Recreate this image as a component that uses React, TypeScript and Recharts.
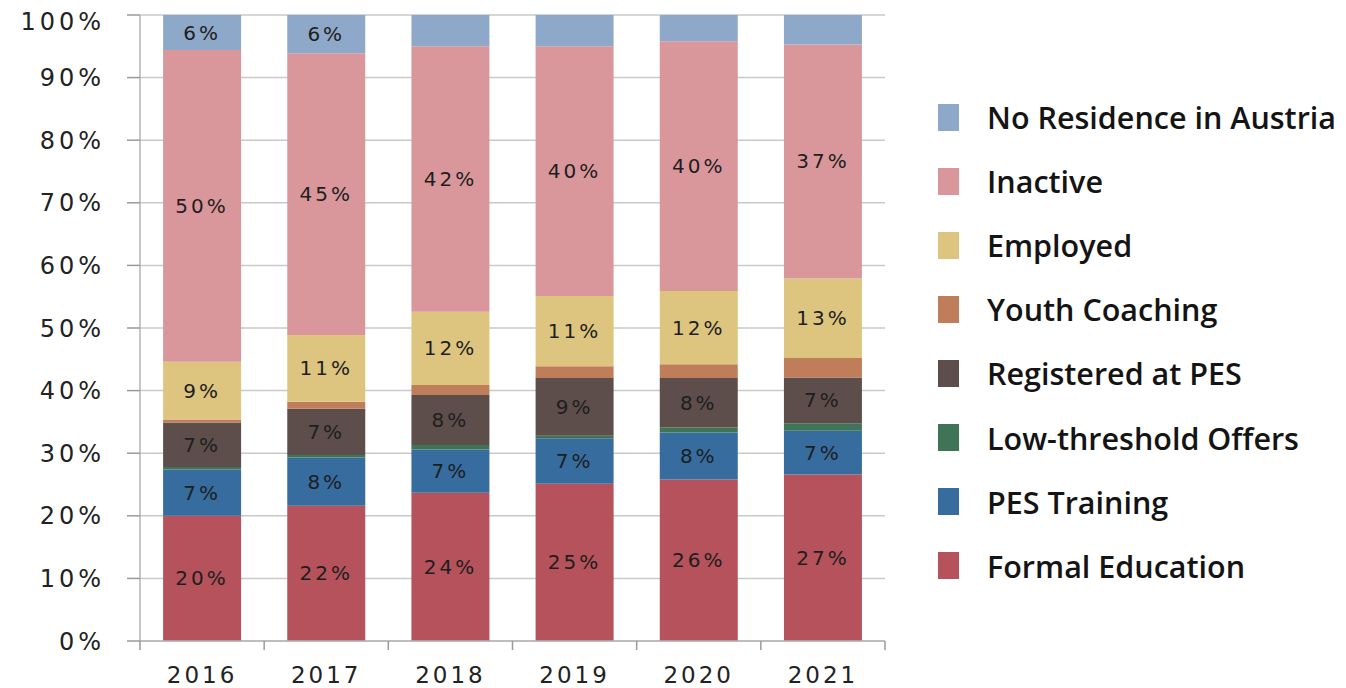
import { Bar, BarChart, CartesianGrid, LabelList, Legend, XAxis, YAxis } from 'recharts'

const years = ['2016', '2017', '2018', '2019', '2020', '2021']

// shares in percent (bottom to top)
const formalEducation = [20.0, 21.6, 23.7, 25.1, 25.8, 26.6]
const pesTraining = [7.4, 7.7, 6.9, 7.3, 7.5, 7.0]
const lowThreshold = [0.4, 0.4, 0.7, 0.4, 0.8, 1.2]
const registeredPes = [7.1, 7.4, 8.0, 9.2, 7.9, 7.3]
const youthCoaching = [0.5, 1.1, 1.6, 1.9, 2.2, 3.1]
const employed = [9.2, 10.7, 11.7, 11.2, 11.7, 12.7]
const inactive = [49.8, 45.0, 42.4, 39.9, 39.9, 37.4]
const noResidence = [5.6, 6.1, 5.0, 5.0, 4.2, 4.7]

const yTicks = [0, 10, 20, 30, 40, 50, 60, 70, 80, 90, 100]

const series = [
   { key: 'formalEducation', name: 'Formal Education', color: '#b5525b', values: formalEducation },
   { key: 'pesTraining', name: 'PES Training', color: '#366c9e', values: pesTraining },
   { key: 'lowThreshold', name: 'Low-threshold Offers', color: '#3f7556', values: lowThreshold },
   { key: 'registeredPes', name: 'Registered at PES', color: '#5d4e4b', values: registeredPes },
   { key: 'youthCoaching', name: 'Youth Coaching', color: '#c07d5a', values: youthCoaching },
   { key: 'employed', name: 'Employed', color: '#ddc57f', values: employed },
   { key: 'inactive', name: 'Inactive', color: '#d9979b', values: inactive },
   { key: 'noResidence', name: 'No Residence in Austria', color: '#8ea8c9', values: noResidence },
]

const data = years.map((year, i) => {
   const row: Record<string, string | number> = { year }
   series.forEach((s) => {
      row[s.key] = s.values[i]
   })
   return row
})

const axisFont = '"DejaVu Sans", sans-serif'

function BarLabel(props: any) {
   const { x, y, width, height, value } = props
   if (value < 5.5) return null
   return (
      <text
         x={x + width / 2}
         y={y + height / 2}
         textAnchor="middle"
         dominantBaseline="central"
         fontFamily={axisFont}
         fontSize={20}
         letterSpacing={3}
         fill="#1e1e1e"
      >
         {Math.round(value)}%
      </text>
   )
}

// year label plus tick marks on the category boundaries (Excel style)
function YearTick(props: any) {
   const { x, y, payload, index, visibleTicksCount } = props
   const half = payload?.offset ?? 62
   const tickStyle = { stroke: '#9a9a9a', strokeWidth: 1.5 }
   return (
      <g>
         <line x1={x - half} x2={x - half} y1={y} y2={y + 9} {...tickStyle} />
         {index === visibleTicksCount - 1 && (
            <line x1={x + half} x2={x + half} y1={y} y2={y + 9} {...tickStyle} />
         )}
         <text
            x={x}
            y={y + 34}
            textAnchor="middle"
            dominantBaseline="central"
            fill="#222"
            fontSize={23}
            fontFamily={axisFont}
            letterSpacing={3}
         >
            {payload.value}
         </text>
      </g>
   )
}

function LegendBox() {
   return (
      <div style={{ fontFamily: '"Open Sans", sans-serif' }}>
         {[...series].reverse().map((s) => (
            <div key={s.key} style={{ display: 'flex', alignItems: 'center', height: 64.1 }}>
               <span style={{ width: 21, height: 27, background: s.color, marginRight: 28, flexShrink: 0 }} />
               <span style={{ fontSize: 30.5, fontWeight: 600, color: '#141414', whiteSpace: 'nowrap' }}>{s.name}</span>
            </div>
         ))}
      </div>
   )
}

export default function App() {
   return (
      <div style={{ position: 'absolute', left: 8, top: 8 }}>
         <BarChart
            width={1330}
            height={680}
            data={data}
            margin={{ top: 7, right: 453, bottom: 0, left: 0 }}
            barCategoryGap="18.6%"
         >
            <CartesianGrid vertical={false} stroke="#c9c9c9" strokeWidth={1.5} />
            <XAxis
               dataKey="year"
               height={47}
               interval={0}
               tickLine={false}
               tickSize={0}
               tickMargin={0}
               axisLine={{ stroke: '#b5b5b5', strokeWidth: 1.5 }}
               tick={<YearTick />}
            />
            <YAxis
               width={132}
               domain={[0, 100]}
               ticks={yTicks}
               allowDataOverflow
               tickFormatter={(v) => `${v}%`}
               tickSize={13}
               tickMargin={22}
               axisLine={{ stroke: '#b5b5b5', strokeWidth: 1.5 }}
               tickLine={{ stroke: '#9a9a9a', strokeWidth: 1.5 }}
               tick={{ fill: '#222', fontSize: 24, fontFamily: axisFont, letterSpacing: 4 }}
            />
            <Legend
               layout="vertical"
               align="center"
               verticalAlign="middle"
               content={() => <LegendBox />}
               wrapperStyle={{ left: 930, top: 77, width: 420 }}
            />
            {series.map((s) => (
               <Bar key={s.key} dataKey={s.key} name={s.name} stackId="a" fill={s.color} isAnimationActive={false}>
                  <LabelList dataKey={s.key} content={BarLabel} />
               </Bar>
            ))}
         </BarChart>
      </div>
   )
}
